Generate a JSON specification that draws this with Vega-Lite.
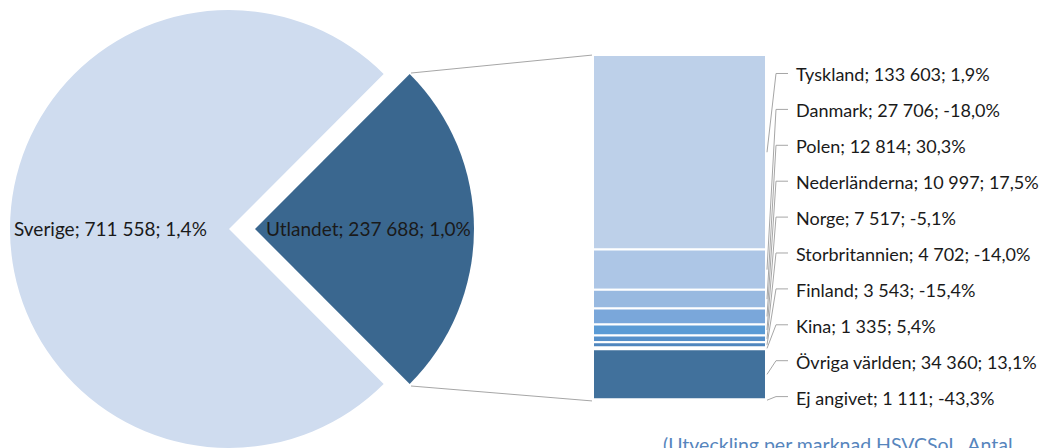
{
  "$schema": "https://vega.github.io/schema/vega-lite/v6.json",
  "width": 1060,
  "height": 448,
  "padding": 0,
  "autosize": {"type": "none"},
  "background": "white",
  "config": {"view": {"stroke": null}, "text": {"font": "Lato", "fontSize": 18, "color": "#1a1a1a"}},
  "datasets": {
    "pie": [
      {"name": "Sverige", "count": 711558, "label": "Sverige; 711 558; 1,4%"},
      {"name": "Utlandet", "count": 237688, "label": "Utlandet; 237 688; 1,0%"}
    ],
    "bars": [
      {"name": "Tyskland", "count": 133603, "label": "Tyskland; 133 603; 1,9%"},
      {"name": "Danmark", "count": 27706, "label": "Danmark; 27 706; -18,0%"},
      {"name": "Polen", "count": 12814, "label": "Polen; 12 814; 30,3%"},
      {"name": "Nederländerna", "count": 10997, "label": "Nederländerna; 10 997; 17,5%"},
      {"name": "Norge", "count": 7517, "label": "Norge; 7 517; -5,1%"},
      {"name": "Storbritannien", "count": 4702, "label": "Storbritannien; 4 702; -14,0%"},
      {"name": "Finland", "count": 3543, "label": "Finland; 3 543; -15,4%"},
      {"name": "Kina", "count": 1335, "label": "Kina; 1 335; 5,4%"},
      {"name": "Övriga världen", "count": 34360, "label": "Övriga världen; 34 360; 13,1%"},
      {"name": "Ej angivet", "count": 1111, "label": "Ej angivet; 1 111; -43,3%"}
    ]
  },
  "layer": [
    {
      "data": {"name": "pie"},
      "transform": [
        {"stack": "count", "groupby": [], "sort": [{"field": "name", "order": "descending"}], "as": ["t0", "t1"]},
        {"filter": "datum.name === 'Sverige'"}
      ],
      "mark": {"type": "arc", "outerRadius": 219, "fill": "#cfdcef"},
      "encoding": {
        "theta": {"field": "t0", "type": "quantitative", "stack": null, "scale": {"domain": [0, 949246], "range": [0.784141, 7.067326]}},
        "theta2": {"field": "t1"},
        "x": {"datum": 229, "type": "quantitative", "scale": {"domain": [0, 1060], "nice": false, "zero": false}, "axis": null},
        "y": {"datum": 118157, "type": "quantitative", "scale": {"domain": [-32287, 275470], "nice": false, "zero": false}, "axis": null}
      }
    },
    {
      "data": {"name": "pie"},
      "transform": [
        {"stack": "count", "groupby": [], "sort": [{"field": "name", "order": "descending"}], "as": ["t0", "t1"]},
        {"filter": "datum.name === 'Utlandet'"}
      ],
      "mark": {"type": "arc", "outerRadius": 219, "fill": "#3a678f"},
      "encoding": {
        "theta": {"field": "t0", "type": "quantitative", "stack": null},
        "theta2": {"field": "t1"},
        "x": {"datum": 255, "type": "quantitative", "axis": null},
        "y": {"datum": 118157, "type": "quantitative", "axis": null}
      }
    },
    {
      "data": {"name": "pie"},
      "transform": [{"filter": "datum.name === 'Sverige'"}],
      "mark": {"type": "text", "align": "left", "baseline": "middle", "fontSize": 19},
      "encoding": {
        "text": {"field": "label"},
        "x": {"datum": 14, "type": "quantitative", "axis": null},
        "y": {"datum": 117470, "type": "quantitative", "axis": null}
      }
    },
    {
      "data": {"name": "pie"},
      "transform": [{"filter": "datum.name === 'Utlandet'"}],
      "mark": {"type": "text", "align": "left", "baseline": "middle", "fontSize": 19},
      "encoding": {
        "text": {"field": "label"},
        "x": {"datum": 266, "type": "quantitative", "axis": null},
        "y": {"datum": 117470, "type": "quantitative", "axis": null}
      }
    },
    {
      "data": {"values": [{"edge": "top"}]},
      "mark": {"type": "rule", "color": "#a6a6a6", "strokeWidth": 1},
      "encoding": {
        "x": {"datum": 411, "type": "quantitative", "axis": null},
        "x2": {"datum": 593},
        "y": {"datum": 225300, "type": "quantitative", "axis": null},
        "y2": {"datum": 237688}
      }
    },
    {
      "data": {"values": [{"edge": "bottom"}]},
      "mark": {"type": "rule", "color": "#a6a6a6", "strokeWidth": 1},
      "encoding": {
        "x": {"datum": 411, "type": "quantitative", "axis": null},
        "x2": {"datum": 593},
        "y": {"datum": 10304, "type": "quantitative", "axis": null},
        "y2": {"datum": 0}
      }
    },
    {
      "data": {"name": "bars"},
      "transform": [
        {"window": [{"op": "row_number", "as": "rank"}]},
        {"stack": "count", "groupby": [], "sort": [{"field": "rank", "order": "descending"}], "as": ["v0", "v1"]}
      ],
      "mark": {"type": "rect", "stroke": "white", "strokeWidth": 2},
      "encoding": {
        "x": {"datum": 593, "type": "quantitative", "axis": null},
        "x2": {"datum": 766},
        "y": {"field": "v0", "type": "quantitative", "axis": null},
        "y2": {"field": "v1"},
        "fill": {
          "field": "name", "type": "nominal", "legend": null,
          "scale": {
            "domain": ["Tyskland", "Danmark", "Polen", "Nederländerna", "Norge", "Storbritannien", "Finland", "Kina", "Övriga världen", "Ej angivet"],
            "range": ["#bdd0e9", "#adc6e6", "#98b9e0", "#7aa7da", "#5b9bd5", "#5690ca", "#4f86be", "#4a7db0", "#41719c", "#3c6890"]
          }
        }
      }
    },
    {
      "data": {"name": "bars"},
      "transform": [
        {"window": [{"op": "row_number", "as": "rank"}]},
        {"stack": "count", "groupby": [], "sort": [{"field": "rank", "order": "descending"}], "as": ["v0", "v1"]},
        {"calculate": "(datum.v0 + datum.v1) / 2", "as": "mid"},
        {"calculate": "222922 - (datum.rank - 1) * 24662 + 2061", "as": "lead"}
      ],
      "mark": {"type": "rule", "color": "#a6a6a6", "strokeWidth": 1},
      "encoding": {
        "x": {"datum": 767, "type": "quantitative", "axis": null},
        "x2": {"datum": 776},
        "y": {"field": "mid", "type": "quantitative", "axis": null},
        "y2": {"field": "lead"}
      }
    },
    {
      "data": {"name": "bars"},
      "transform": [
        {"window": [{"op": "row_number", "as": "rank"}]},
        {"calculate": "222922 - (datum.rank - 1) * 24662 + 2061", "as": "lead"}
      ],
      "mark": {"type": "rule", "color": "#a6a6a6", "strokeWidth": 1},
      "encoding": {
        "x": {"datum": 776, "type": "quantitative", "axis": null},
        "x2": {"datum": 788},
        "y": {"field": "lead", "type": "quantitative", "axis": null}
      }
    },
    {
      "data": {"name": "bars"},
      "transform": [
        {"window": [{"op": "row_number", "as": "rank"}]},
        {"calculate": "222922 - (datum.rank - 1) * 24662", "as": "ly"}
      ],
      "mark": {"type": "text", "align": "left", "baseline": "middle"},
      "encoding": {
        "text": {"field": "label"},
        "x": {"datum": 796, "type": "quantitative", "axis": null},
        "y": {"field": "ly", "type": "quantitative", "axis": null}
      }
    },
    {
      "data": {"values": [{"note": "(Utveckling per marknad HSVCSoL. Antal"}]},
      "mark": {"type": "text", "align": "left", "baseline": "alphabetic", "fontSize": 19.5, "color": "#5685bd"},
      "encoding": {
        "text": {"field": "note"},
        "x": {"datum": 663, "type": "quantitative", "axis": null},
        "y": {"datum": -35000, "type": "quantitative", "axis": null}
      }
    },
    {
      "data": {"values": [{"note": "g"}]},
      "mark": {"type": "text", "align": "center", "baseline": "alphabetic", "fontSize": 30, "fontWeight": "bold", "color": "#3b6e98"},
      "encoding": {
        "text": {"field": "note"},
        "x": {"datum": 86, "type": "quantitative", "axis": null},
        "y": {"datum": 278906, "type": "quantitative", "axis": null}
      }
    }
  ]
}
